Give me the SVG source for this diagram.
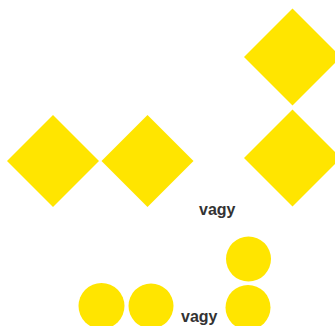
<svg xmlns="http://www.w3.org/2000/svg" width="335" height="326" viewBox="0 0 335 326">
<style>
.s{fill:#FFE500}
.t{font-family:"Liberation Sans",Arial,sans-serif;font-weight:bold;font-size:16px;fill:#333}
</style>
<rect width="335" height="326" fill="#fff"/>
<g id="diamond1"><polygon class="s" points="53,115 99,161 53,207 7,161"/></g>
<g id="diamond2"><polygon class="s" points="147.5,115 193.5,161 147.5,207 101.5,161"/></g>
<g id="diamond3"><polygon class="s" points="292.5,8.5 341,57 292.5,105.5 244,57"/></g>
<g id="diamond4"><polygon class="s" points="292.5,109.5 341,158 292.5,206.5 244,158"/></g>
<g id="label1"><text class="t" x="199" y="215">vagy</text></g>
<g id="circle1"><circle class="s" cx="101.5" cy="306" r="23"/></g>
<g id="circle2"><circle class="s" cx="151" cy="306" r="22.5"/></g>
<g id="circle3"><circle class="s" cx="248.5" cy="259" r="22.5"/></g>
<g id="circle4"><circle class="s" cx="248" cy="307.5" r="22.5"/></g>
<g id="label2"><text class="t" x="181" y="321.5">vagy</text></g>
<g id="connectors"></g>
</svg>
